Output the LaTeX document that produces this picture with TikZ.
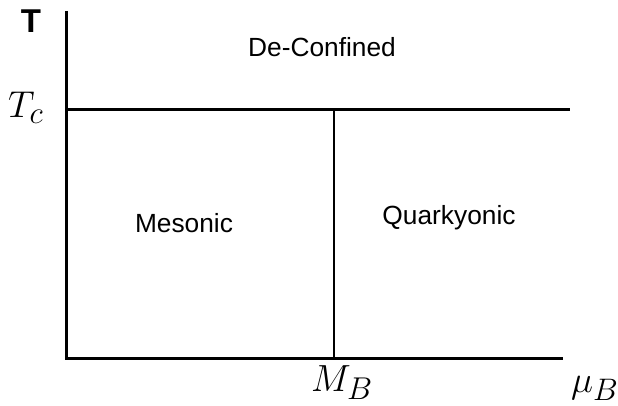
\documentclass[tikz,border=0pt]{standalone}
\usepackage{graphicx}
\usepackage{fontspec}
\setmainfont{Liberation Sans}
\newcommand{\bigmath}[2]{\scalebox{#1}{\fontsize{24.88}{28}\selectfont$#2$}}
\begin{document}
\begin{tikzpicture}[x=1pt,y=-1pt,
  lbl/.style={inner sep=0pt,anchor=base,font=\fontsize{26.3}{28}\selectfont},
  axis/.style={line width=3pt},
  thin/.style={line width=2pt}]
\useasboundingbox (0,0) rectangle (618,406);
\coordinate (o) at (66,358);
\coordinate (ytop) at (66,11);
\coordinate (xend) at (563,358);
\coordinate (tcl) at (66,110);
\coordinate (tcr) at (570,110);
\coordinate (mbt) at (334,110);
\coordinate (mbb) at (334,358);
\draw[axis] (ytop) -- (o) -- (xend);
\draw[axis] (tcl) -- (tcr);
\draw[thin] (mbt) -- (mbb);
\node[lbl,font=\fontsize{33}{36}\selectfont\bfseries] (T) at (31,33) {T};
\node[lbl,anchor=base west] (Tc) at (8,118) {\bigmath{1.5}{T_c}};
\node[lbl] (dc) at (322,57) {De-Confined};
\node[lbl] (mes) at (184,232) {Mesonic};
\node[lbl] (qk) at (449,224) {Quarkyonic};
\node[lbl,anchor=base west] (MB) at (311,391) {\bigmath{1.52}{M_B}};
\node[lbl,anchor=base west] (muB) at (571,392) {\bigmath{1.5}{\mu_B}};
\end{tikzpicture}
\end{document}
